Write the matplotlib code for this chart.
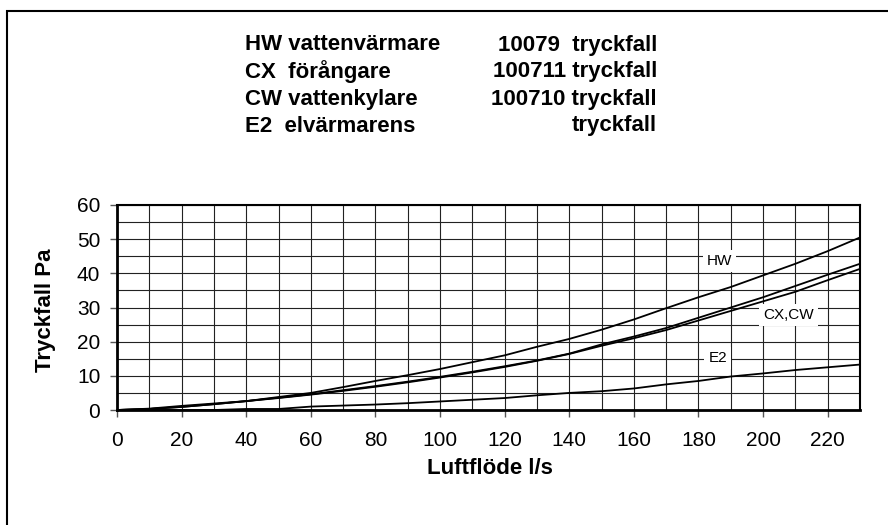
import numpy as np
import matplotlib.pyplot as plt
from matplotlib.patches import Rectangle

plt.rcParams['font.family'] = ['Liberation Sans', 'DejaVu Sans']

flow = [0, 10, 20, 30, 40, 50, 60, 70, 80, 90, 100, 110, 120,
        130, 140, 150, 160, 170, 180, 190, 200, 210, 220, 230]
hw = [0, 0.4, 1.2, 1.9, 2.6, 3.8, 5.0, 6.7, 8.5, 10.2, 12.0, 14.0, 16.0,
      18.5, 20.8, 23.5, 26.5, 29.8, 33.0, 36.0, 39.4, 42.8, 46.5, 50.5]
cx = [0, 0.3, 0.9, 1.7, 2.6, 3.6, 4.6, 5.8, 7.0, 8.3, 9.7, 11.2, 12.8,
      14.5, 16.5, 19.2, 21.5, 24.0, 27.0, 30.0, 33.0, 36.3, 39.6, 42.8]
cw = [0, 0.3, 0.9, 1.7, 2.6, 3.5, 4.5, 5.6, 6.8, 8.1, 9.5, 11.0, 12.6,
      14.4, 16.4, 18.8, 21.0, 23.4, 26.2, 29.0, 31.8, 34.6, 38.0, 41.3]
e2 = [0, 0, 0, 0, 0.3, 0.3, 1.0, 1.3, 1.6, 2.0, 2.5, 3.0, 3.5,
      4.3, 5.0, 5.5, 6.3, 7.5, 8.5, 9.8, 10.7, 11.7, 12.5, 13.3]

title_left = ['HW vattenvärmare', 'CX  förångare', 'CW vattenkylare', 'E2  elvärmarens']
title_right = ['10079  tryckfall', '100711 tryckfall', '100710 tryckfall', 'tryckfall']

fig = plt.figure(figsize=(8.88, 5.25), dpi=100)
ax = fig.add_axes([117/888, 115/525, 743/888, 205/525])

for y in [hw, cx, cw, e2]:
    ax.plot(flow, y, color='black', lw=1.3)

ax.set_xlim(0, 230)
ax.set_ylim(0, 60)
ax.set_xticks(np.arange(0, 221, 20))
ax.set_yticks(np.arange(0, 61, 10))
ax.set_xticks(np.arange(0, 231, 10), minor=True)
ax.set_yticks(np.arange(0, 61, 5), minor=True)
ax.grid(which='both', color='#222222', lw=0.8)
ax.tick_params(which='major', direction='out', length=5, width=1,
               labelsize=15, color='#555555')
ax.tick_params(axis='x', pad=10)
ax.tick_params(axis='y', pad=7)
ax.tick_params(which='minor', length=0)
for s in ax.spines.values():
    s.set_linewidth(1.5)
ax.spines['left'].set_linewidth(2)
ax.spines['bottom'].set_linewidth(2)

fig.text(490/888, 1 - 468/525, 'Luftflöde l/s', fontsize=16,
         fontweight='bold', ha='center', va='center')
fig.text(45/888, 1 - 310/525, 'Tryckfall Pa', fontsize=16,
         fontweight='bold', ha='center', va='center', rotation=90)

box = dict(facecolor='white', edgecolor='none', pad=3)
ax.text(186.5, 43.6, 'HW', fontsize=11, ha='center', va='center', bbox=box)
ax.text(208, 27.8, 'CX,CW', fontsize=11, ha='center', va='center', bbox=box)
ax.text(186, 15.2, 'E2', fontsize=11, ha='center', va='center', bbox=box)

for i in range(4):
    yy = 1 - (45 + 27 * i) / 525
    fig.text(245/888, yy, title_left[i], fontsize=16, fontweight='bold',
             ha='left', va='center')
    fig.text(657/888, yy, title_right[i], fontsize=16, fontweight='bold',
             ha='right', va='center')

fig.patches.append(Rectangle((7/888, -0.1), 1.2, 1 - 11/525 + 0.1,
                             transform=fig.transFigure, fill=False,
                             edgecolor='black', lw=1.5))

fig.savefig('out.png', dpi=100)
